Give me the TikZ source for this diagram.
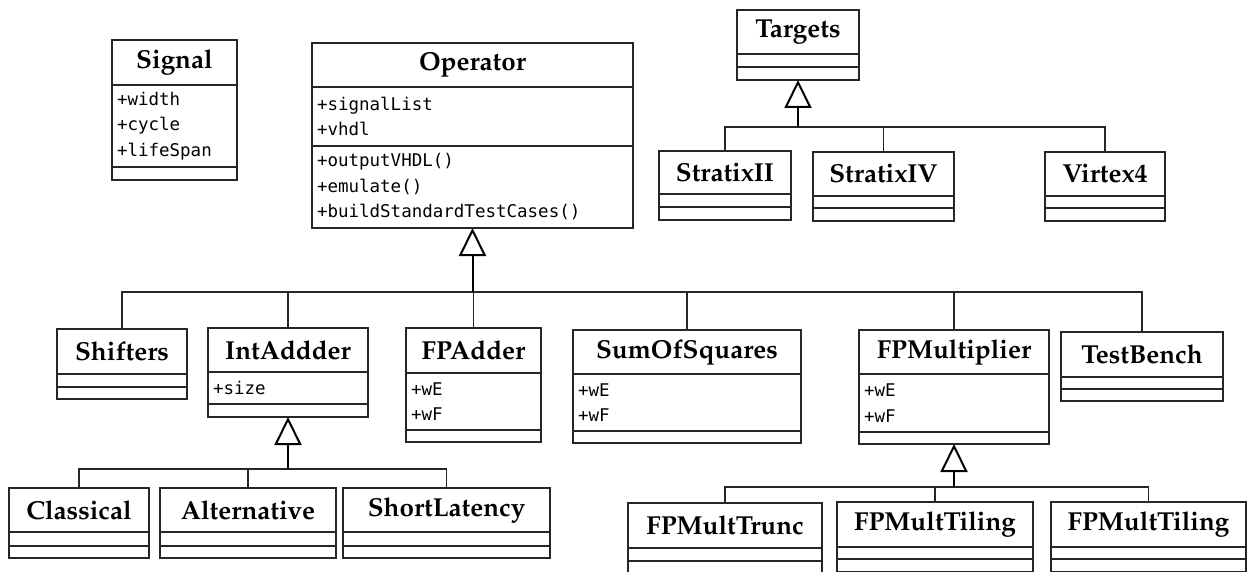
\documentclass[tikz,border=0pt]{standalone}
\usepackage[T1]{fontenc}
\usepackage{fontspec}
\usepackage{tikz}
\usetikzlibrary{positioning,arrows.meta}
\newfontfamily\attrfam{DejaVu Sans Mono}
\newcommand{\headfont}{\fontencoding{T1}\fontfamily{ppl}\fontseries{b}\fontsize{26}{30}\selectfont}
\newcommand{\attrfont}{\attrfam\fontsize{17.5}{25.5}\selectfont}
\tikzstyle{umlhead}=[
  draw=black!85,line width=1.2pt,outer sep=0pt,inner sep=0pt,font=\headfont,anchor=north west
]
\tikzstyle{umlpart}=[
  draw=black!85,line width=1.2pt,outer sep=0pt,inner xsep=5pt,inner ysep=0pt,align=left,font=\attrfont
]
\tikzstyle{umllink}=[
  line width=1.1pt,draw=black!85
]
\tikzstyle{umlisa}=[
  line width=2pt,draw=black,-{Triangle[open,width=27pt,length=28pt]}
]

\begin{document}
\begin{tikzpicture}[x=1pt,y=-1pt]
    \clip (0,0) rectangle (1247,572);
    % top row
    \node[umlhead,minimum width=125pt,minimum height=45pt] (signal) at (112,40) {Signal};
    \node[umlpart,text width=115pt,minimum height=82pt,below=0pt of signal] (signal-a) {+width\\+cycle\\+lifeSpan};
    \node[umlpart,minimum width=125pt,minimum height=13pt,below=0pt of signal-a] (signal-m) {};
    \node[umlhead,minimum width=321pt,minimum height=44pt] (operator) at (312,43) {Operator};
    \node[umlpart,text width=311pt,minimum height=59pt,below=0pt of operator] (operator-a) {+signalList\\+vhdl};
    \node[umlpart,text width=311pt,minimum height=82pt,below=0pt of operator-a] (operator-m) {+outputVHDL()\\+emulate()\\+buildStandardTestCases()};
    \node[umlhead,minimum width=122pt,minimum height=44pt] (targets) at (737,10) {Targets};
    \node[umlpart,minimum width=122pt,minimum height=13pt,below=0pt of targets] (targets-a) {};
    \node[umlpart,minimum width=122pt,minimum height=13pt,below=0pt of targets-a] (targets-m) {};
    % targets
    \node[umlhead,minimum width=132pt,minimum height=43pt] (stratix2) at (659,151) {StratixII};
    \node[umlpart,minimum width=132pt,minimum height=13pt,below=0pt of stratix2] (stratix2-a) {};
    \node[umlpart,minimum width=132pt,minimum height=13pt,below=0pt of stratix2-a] (stratix2-m) {};
    \node[umlhead,minimum width=141pt,minimum height=44pt] (stratix4) at (813,152) {StratixIV};
    \node[umlpart,minimum width=141pt,minimum height=12pt,below=0pt of stratix4] (stratix4-a) {};
    \node[umlpart,minimum width=141pt,minimum height=13pt,below=0pt of stratix4-a] (stratix4-m) {};
    \node[umlhead,minimum width=120pt,minimum height=44pt] (virtex4) at (1045,152) {Virtex4};
    \node[umlpart,minimum width=120pt,minimum height=12pt,below=0pt of virtex4] (virtex4-a) {};
    \node[umlpart,minimum width=120pt,minimum height=13pt,below=0pt of virtex4-a] (virtex4-m) {};
    % operators
    \node[umlhead,minimum width=130pt,minimum height=45pt] (shifters) at (57,329) {Shifters};
    \node[umlpart,minimum width=130pt,minimum height=13pt,below=0pt of shifters] (shifters-a) {};
    \node[umlpart,minimum width=130pt,minimum height=12pt,below=0pt of shifters-a] (shifters-m) {};
    \node[umlhead,minimum width=160pt,minimum height=44pt] (intadder) at (208,328) {IntAddder};
    \node[umlpart,text width=150pt,minimum height=32pt,below=0pt of intadder] (intadder-a) {+size};
    \node[umlpart,minimum width=160pt,minimum height=13pt,below=0pt of intadder-a] (intadder-m) {};
    \node[umlhead,minimum width=135pt,minimum height=45pt] (fpadder) at (406,328) {FPAdder};
    \node[umlpart,text width=125pt,minimum height=57pt,below=0pt of fpadder] (fpadder-a) {+wE\\+wF};
    \node[umlpart,minimum width=135pt,minimum height=12pt,below=0pt of fpadder-a] (fpadder-m) {};
    \node[umlhead,minimum width=228pt,minimum height=44pt] (sumsq) at (573,330) {SumOfSquares};
    \node[umlpart,text width=218pt,minimum height=57pt,below=0pt of sumsq] (sumsq-a) {+wE\\+wF};
    \node[umlpart,minimum width=228pt,minimum height=12pt,below=0pt of sumsq-a] (sumsq-m) {};
    \node[umlhead,minimum width=190pt,minimum height=44pt] (fpmult) at (859,330) {FPMultiplier};
    \node[umlpart,text width=180pt,minimum height=58pt,below=0pt of fpmult] (fpmult-a) {+wE\\+wF};
    \node[umlpart,minimum width=190pt,minimum height=12pt,below=0pt of fpmult-a] (fpmult-m) {};
    \node[umlhead,minimum width=162pt,minimum height=45pt] (testbench) at (1061,332) {TestBench};
    \node[umlpart,minimum width=162pt,minimum height=12pt,below=0pt of testbench] (testbench-a) {};
    \node[umlpart,minimum width=162pt,minimum height=12pt,below=0pt of testbench-a] (testbench-m) {};
    % int adders
    \node[umlhead,minimum width=140pt,minimum height=44pt] (classical) at (9,488) {Classical};
    \node[umlpart,minimum width=140pt,minimum height=14pt,below=0pt of classical] (classical-a) {};
    \node[umlpart,minimum width=140pt,minimum height=12pt,below=0pt of classical-a] (classical-m) {};
    \node[umlhead,minimum width=176pt,minimum height=44pt] (alternative) at (160,488) {Alternative};
    \node[umlpart,minimum width=176pt,minimum height=14pt,below=0pt of alternative] (alternative-a) {};
    \node[umlpart,minimum width=176pt,minimum height=12pt,below=0pt of alternative-a] (alternative-m) {};
    \node[umlhead,minimum width=207pt,minimum height=44pt] (shortlat) at (343,488) {ShortLatency};
    \node[umlpart,minimum width=207pt,minimum height=14pt,below=0pt of shortlat] (shortlat-a) {};
    \node[umlpart,minimum width=207pt,minimum height=12pt,below=0pt of shortlat-a] (shortlat-m) {};
    % fp multipliers
    \node[umlhead,minimum width=194pt,minimum height=45pt] (fpmtrunc) at (628,503) {FPMultTrunc};
    \node[umlpart,minimum width=194pt,minimum height=13pt,below=0pt of fpmtrunc] (fpmtrunc-a) {};
    \node[umlpart,minimum width=194pt,minimum height=13pt,below=0pt of fpmtrunc-a] (fpmtrunc-m) {};
    \node[umlhead,minimum width=196pt,minimum height=45pt] (fpmtiling) at (837,502) {FPMultTiling};
    \node[umlpart,minimum width=196pt,minimum height=12pt,below=0pt of fpmtiling] (fpmtiling-a) {};
    \node[umlpart,minimum width=196pt,minimum height=13pt,below=0pt of fpmtiling-a] (fpmtiling-m) {};
    \node[umlhead,minimum width=195pt,minimum height=45pt] (fpmtilingb) at (1051,502) {FPMultTiling};
    \node[umlpart,minimum width=195pt,minimum height=12pt,below=0pt of fpmtilingb] (fpmtilingb-a) {};
    \node[umlpart,minimum width=195pt,minimum height=13pt,below=0pt of fpmtilingb-a] (fpmtilingb-m) {};
    % inheritance
    \coordinate (opbus) at (472.5,292);
    \coordinate (tbus) at (798,127);
    \coordinate (ibus) at (288,469);
    \coordinate (mbus) at (954,487);
    \foreach \child in {shifters,intadder,fpadder,sumsq,fpmult,testbench}
      \draw[umllink] (\child.north) |- (opbus);
    \foreach \child in {stratix2,stratix4,virtex4}
      \draw[umllink] (\child.north) |- (tbus);
    \foreach \child in {classical,alternative,shortlat}
      \draw[umllink] (\child.north) |- (ibus);
    \foreach \child in {fpmtrunc,fpmtiling,fpmtilingb}
      \draw[umllink] (\child.north) |- (mbus);
    \draw[umlisa] (opbus) -- (operator-m.south);
    \draw[umlisa] (tbus) -- (targets-m.south);
    \draw[umlisa] (ibus) -- (intadder-m.south);
    \draw[umlisa] (mbus) -- (fpmult-m.south);
\end{tikzpicture}
\end{document}
